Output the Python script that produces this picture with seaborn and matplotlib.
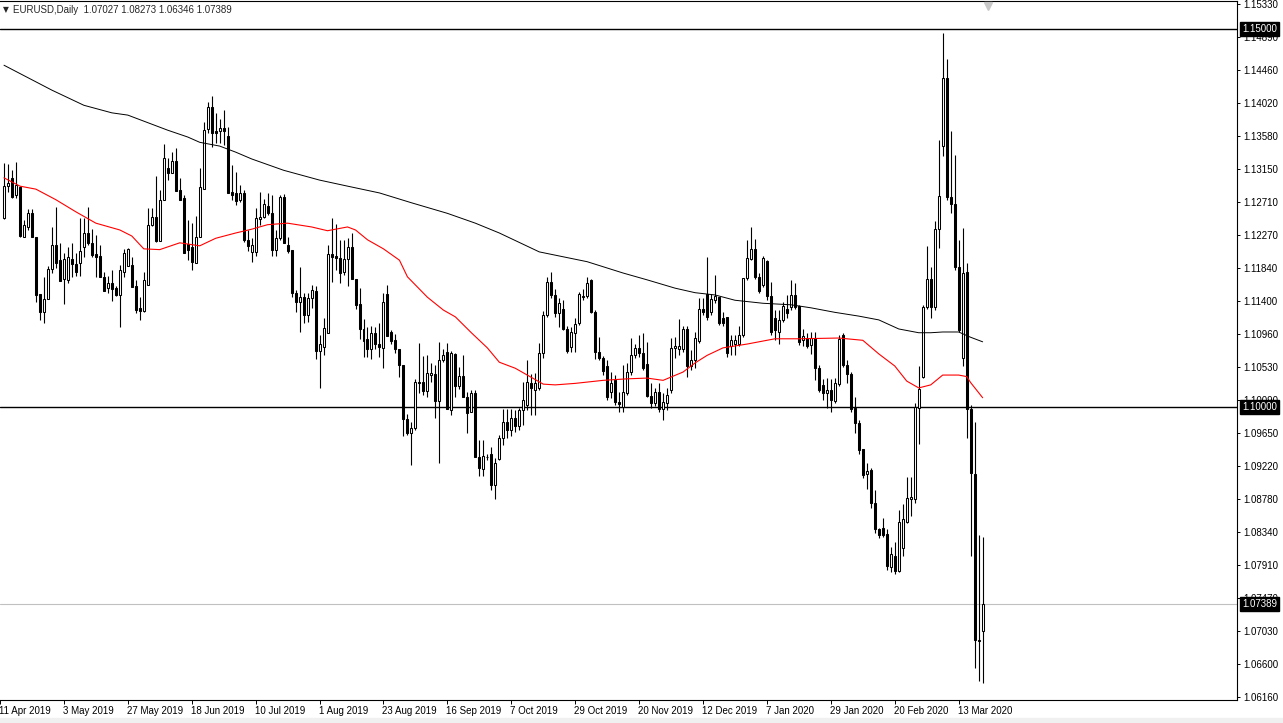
import matplotlib
matplotlib.use("Agg")
import matplotlib.pyplot as plt
import matplotlib.transforms as mtransforms
from matplotlib.patches import Rectangle
import numpy as np
import pandas as pd
import seaborn as sns

# EURUSD daily candles, 11 Apr 2019 .. 20 Mar 2020
open_ = [
    1.1250, 1.1292, 1.1303, 1.1280, 1.1291, 1.1225, 1.1238, 1.1256, 1.1225, 1.1149,
    1.1125, 1.1143, 1.1182, 1.1214, 1.1194, 1.1169, 1.1168, 1.1195, 1.1189, 1.1190,
    1.1211, 1.1230, 1.1217, 1.1202, 1.1200, 1.1172, 1.1157, 1.1164, 1.1157, 1.1148,
    1.1178, 1.1186, 1.1188, 1.1160, 1.1131, 1.1127, 1.1161, 1.1241, 1.1251, 1.1219,
    1.1274, 1.1316, 1.1309, 1.1325, 1.1287, 1.1276, 1.1215, 1.1211, 1.1190, 1.1225,
    1.1288, 1.1368, 1.1397, 1.1365, 1.1365, 1.1369, 1.1358, 1.1284, 1.1283, 1.1274,
    1.1283, 1.1221, 1.1205, 1.1205, 1.1249, 1.1251, 1.1266, 1.1256, 1.1208, 1.1223,
    1.1277, 1.1214, 1.1208, 1.1151, 1.1139, 1.1145, 1.1122, 1.1144, 1.1153, 1.1074,
    1.1079, 1.1097, 1.1202, 1.1200, 1.1197, 1.1178, 1.1195, 1.1211, 1.1169, 1.1136,
    1.1103, 1.1090, 1.1076, 1.1097, 1.1083, 1.1078, 1.1149, 1.1099, 1.1088, 1.1076,
    1.1055, 1.0984, 1.0965, 1.0972, 1.1033, 1.1033, 1.1021, 1.1042, 1.1043, 1.1008,
    1.1062, 1.1072, 1.0996, 1.1070, 1.1028, 1.1041, 1.1013, 1.0993, 1.1018, 1.0933,
    1.0918, 1.0933, 1.0937, 1.0897, 1.0931, 1.0959, 1.0980, 1.0969, 1.0985, 1.0975,
    1.0996, 1.1002, 1.1031, 1.1022, 1.1025, 1.1071, 1.1122, 1.1165, 1.1148, 1.1124,
    1.1129, 1.1103, 1.1079, 1.1097, 1.1111, 1.1145, 1.1147, 1.1168, 1.1125, 1.1072,
    1.1065, 1.1054, 1.1020, 1.1036, 1.1006, 1.1000, 1.1018, 1.1046, 1.1069, 1.1078,
    1.1071, 1.1057, 1.1014, 1.1005, 1.1020, 1.0997, 1.1005, 1.1022, 1.1078, 1.1076,
    1.1076, 1.1103, 1.1054, 1.1062, 1.1087, 1.1129, 1.1149, 1.1125, 1.1141, 1.1145,
    1.1117, 1.1119, 1.1080, 1.1083, 1.1083, 1.1095, 1.1170, 1.1195, 1.1209, 1.1172,
    1.1161, 1.1193, 1.1147, 1.1117, 1.1099, 1.1115, 1.1129, 1.1132, 1.1148, 1.1133,
    1.1088, 1.1091, 1.1082, 1.1091, 1.1051, 1.1029, 1.1018, 1.1022, 1.1008, 1.1030,
    1.1095, 1.1055, 1.1043, 1.0998, 1.0978, 1.0944, 1.0911, 1.0916, 1.0873, 1.0838,
    1.0840, 1.0832, 1.0788, 1.0803, 1.0783, 1.0813, 1.0848, 1.0878, 1.0878, 1.0998,
    1.1040, 1.1132, 1.1169, 1.1132, 1.1235, 1.1345, 1.1435, 1.1277, 1.1268, 1.1185,
    1.1065, 1.1178, 1.0997, 1.0911, 1.0690, 1.07027,
]
high = [
    1.1323, 1.1321, 1.1313, 1.1324, 1.1292, 1.1247, 1.1262, 1.1262, 1.1225, 1.1149,
    1.1172, 1.1186, 1.1238, 1.1264, 1.1217, 1.1203, 1.1211, 1.1217, 1.1203, 1.1250,
    1.1250, 1.1264, 1.1235, 1.1227, 1.1214, 1.1178, 1.1173, 1.1181, 1.1160, 1.1188,
    1.1209, 1.1210, 1.1198, 1.1168, 1.1145, 1.1178, 1.1263, 1.1263, 1.1305, 1.1287,
    1.1348, 1.1329, 1.1337, 1.1342, 1.1303, 1.1280, 1.1247, 1.1243, 1.1252, 1.1316,
    1.1377, 1.1403, 1.1411, 1.1389, 1.1381, 1.1393, 1.1370, 1.1320, 1.1311, 1.1294,
    1.1287, 1.1234, 1.1223, 1.1263, 1.1284, 1.1275, 1.1283, 1.1280, 1.1234, 1.1280,
    1.1282, 1.1225, 1.1208, 1.1155, 1.1185, 1.1151, 1.1151, 1.1161, 1.1160, 1.1095,
    1.1118, 1.1214, 1.1250, 1.1242, 1.1221, 1.1221, 1.1223, 1.1230, 1.1169, 1.1157,
    1.1116, 1.1106, 1.1107, 1.1106, 1.1111, 1.1151, 1.1161, 1.1101, 1.1096, 1.1076,
    1.1055, 1.0990, 1.0980, 1.1037, 1.1084, 1.1067, 1.1069, 1.1058, 1.1055, 1.1086,
    1.1076, 1.1084, 1.1074, 1.1071, 1.1053, 1.1069, 1.1020, 1.1022, 1.1022, 1.0956,
    1.0956, 1.0937, 1.0947, 1.0932, 1.0963, 1.0997, 1.0997, 1.0997, 1.0996, 1.0998,
    1.1033, 1.1062, 1.1043, 1.1045, 1.1084, 1.1127, 1.1172, 1.1178, 1.1156, 1.1144,
    1.1141, 1.1107, 1.1106, 1.1118, 1.1152, 1.1156, 1.1172, 1.1169, 1.1128, 1.1092,
    1.1067, 1.1062, 1.1046, 1.1042, 1.1020, 1.1055, 1.1058, 1.1091, 1.1083, 1.1095,
    1.1098, 1.1086, 1.1031, 1.1025, 1.1031, 1.1018, 1.1025, 1.1091, 1.1092, 1.1116,
    1.1107, 1.1107, 1.1075, 1.1099, 1.1144, 1.1144, 1.1198, 1.1149, 1.1175, 1.1145,
    1.1125, 1.1119, 1.1095, 1.1095, 1.1107, 1.1170, 1.1221, 1.1238, 1.1222, 1.1177,
    1.1199, 1.1194, 1.1165, 1.1128, 1.1128, 1.1139, 1.1148, 1.1168, 1.1164, 1.1135,
    1.1103, 1.1098, 1.1099, 1.1099, 1.1055, 1.1037, 1.1038, 1.1037, 1.1038, 1.1095,
    1.1098, 1.1062, 1.1046, 1.1013, 1.0982, 1.0944, 1.0926, 1.0919, 1.0890, 1.0840,
    1.0853, 1.0838, 1.0814, 1.0821, 1.0863, 1.0871, 1.0907, 1.0907, 1.1005, 1.1054,
    1.1135, 1.1213, 1.1185, 1.1246, 1.1353, 1.1495, 1.1460, 1.1365, 1.1333, 1.1221,
    1.1237, 1.1190, 1.1002, 1.0980, 1.0830, 1.08273,
]
low = [
    1.1248, 1.1284, 1.1276, 1.1276, 1.1225, 1.1225, 1.1234, 1.1225, 1.1139, 1.1115,
    1.1111, 1.1143, 1.1177, 1.1184, 1.1166, 1.1136, 1.1164, 1.1172, 1.1173, 1.1173,
    1.1198, 1.1214, 1.1198, 1.1172, 1.1172, 1.1153, 1.1151, 1.1140, 1.1147, 1.1106,
    1.1172, 1.1186, 1.1158, 1.1124, 1.1115, 1.1125, 1.1161, 1.1239, 1.1218, 1.1219,
    1.1274, 1.1300, 1.1309, 1.1286, 1.1274, 1.1203, 1.1194, 1.1181, 1.1190, 1.1225,
    1.1288, 1.1362, 1.1344, 1.1349, 1.1349, 1.1346, 1.1283, 1.1274, 1.1267, 1.1271,
    1.1218, 1.1206, 1.1192, 1.1199, 1.1241, 1.1250, 1.1254, 1.1199, 1.1199, 1.1221,
    1.1217, 1.1203, 1.1145, 1.1125, 1.1099, 1.1111, 1.1112, 1.1131, 1.1063, 1.1025,
    1.1069, 1.1097, 1.1165, 1.1181, 1.1164, 1.1174, 1.1160, 1.1169, 1.1129, 1.1090,
    1.1066, 1.1066, 1.1063, 1.1076, 1.1066, 1.1052, 1.1094, 1.1083, 1.1071, 1.1039,
    1.0961, 1.0963, 1.0923, 1.0969, 1.1018, 1.1016, 1.1013, 1.1033, 1.0985, 1.0926,
    1.1059, 1.0997, 1.0989, 1.1013, 1.1024, 1.1013, 1.0965, 1.0993, 1.0933, 1.0908,
    1.0908, 1.0929, 1.0890, 1.0878, 1.0930, 1.0949, 1.0959, 1.0961, 1.0967, 1.0969,
    1.0976, 1.0996, 1.0989, 1.0989, 1.1022, 1.1065, 1.1119, 1.1144, 1.1119, 1.1106,
    1.1102, 1.1071, 1.1072, 1.1072, 1.1108, 1.1141, 1.1144, 1.1124, 1.1063, 1.1062,
    1.1042, 1.1009, 1.1012, 1.1002, 1.0993, 1.0993, 1.1016, 1.1042, 1.1065, 1.1066,
    1.1049, 1.1013, 1.0998, 1.1001, 1.0993, 1.0983, 1.0996, 1.1018, 1.1065, 1.1069,
    1.1072, 1.1039, 1.1049, 1.1051, 1.1084, 1.1121, 1.1115, 1.1121, 1.1137, 1.1108,
    1.1107, 1.1066, 1.1069, 1.1069, 1.1080, 1.1092, 1.1168, 1.1194, 1.1169, 1.1151,
    1.1158, 1.1141, 1.1095, 1.1088, 1.1083, 1.1112, 1.1117, 1.1128, 1.1129, 1.1082,
    1.1080, 1.1078, 1.1070, 1.1035, 1.1020, 1.1009, 1.0998, 1.0993, 1.1005, 1.1028,
    1.1053, 1.1032, 1.0993, 1.0965, 1.0937, 1.0906, 1.0891, 1.0866, 1.0833, 1.0826,
    1.0828, 1.0784, 1.0781, 1.0779, 1.0781, 1.0803, 1.0846, 1.0855, 1.0873, 1.0951,
    1.1038, 1.1129, 1.1117, 1.1128, 1.1210, 1.1332, 1.1274, 1.1256, 1.1181, 1.1099,
    1.1054, 1.0959, 1.0802, 1.0654, 1.0637, 1.06346,
]
close = [
    1.1292, 1.1296, 1.1278, 1.1294, 1.1226, 1.1241, 1.1256, 1.1225, 1.1148, 1.1125,
    1.1143, 1.1182, 1.1214, 1.1190, 1.1166, 1.1195, 1.1198, 1.1189, 1.1178, 1.1206,
    1.1230, 1.1217, 1.1201, 1.1198, 1.1172, 1.1153, 1.1164, 1.1156, 1.1148, 1.1181,
    1.1203, 1.1209, 1.1158, 1.1128, 1.1127, 1.1168, 1.1241, 1.1251, 1.1219, 1.1274,
    1.1329, 1.1309, 1.1325, 1.1286, 1.1274, 1.1203, 1.1208, 1.1192, 1.1225, 1.1291,
    1.1366, 1.1397, 1.1362, 1.1362, 1.1369, 1.1365, 1.1283, 1.1280, 1.1272, 1.1283,
    1.1221, 1.1213, 1.1214, 1.1250, 1.1251, 1.1268, 1.1256, 1.1208, 1.1223, 1.1277,
    1.1217, 1.1206, 1.1151, 1.1139, 1.1145, 1.1122, 1.1144, 1.1155, 1.1074, 1.1083,
    1.1104, 1.1202, 1.1198, 1.1197, 1.1177, 1.1195, 1.1211, 1.1169, 1.1135, 1.1103,
    1.1087, 1.1076, 1.1097, 1.1083, 1.1079, 1.1139, 1.1094, 1.1087, 1.1076, 1.1055,
    1.0984, 1.0965, 1.0972, 1.1033, 1.1031, 1.1021, 1.1045, 1.1045, 1.1008, 1.1062,
    1.1069, 1.0997, 1.1071, 1.1028, 1.1041, 1.1013, 1.0992, 1.1018, 1.0933, 1.0919,
    1.0935, 1.0933, 1.0897, 1.0926, 1.0959, 1.0980, 1.0969, 1.0985, 1.0975, 1.0996,
    1.1009, 1.1033, 1.1025, 1.1031, 1.1071, 1.1122, 1.1165, 1.1148, 1.1124, 1.1137,
    1.1103, 1.1074, 1.1099, 1.1110, 1.1149, 1.1147, 1.1164, 1.1125, 1.1072, 1.1065,
    1.1047, 1.1013, 1.1031, 1.1006, 1.1004, 1.1020, 1.1046, 1.1069, 1.1078, 1.1071,
    1.1051, 1.1014, 1.1005, 1.1020, 1.0997, 1.1006, 1.1016, 1.1078, 1.1080, 1.1080,
    1.1103, 1.1054, 1.1062, 1.1091, 1.1129, 1.1125, 1.1119, 1.1143, 1.1147, 1.1111,
    1.1111, 1.1071, 1.1088, 1.1088, 1.1095, 1.1170, 1.1197, 1.1209, 1.1172, 1.1153,
    1.1197, 1.1147, 1.1099, 1.1102, 1.1115, 1.1133, 1.1124, 1.1148, 1.1132, 1.1086,
    1.1094, 1.1080, 1.1091, 1.1051, 1.1022, 1.1018, 1.1022, 1.1009, 1.1031, 1.1090,
    1.1055, 1.1043, 1.0997, 1.0978, 1.0943, 1.0910, 1.0915, 1.0873, 1.0838, 1.0830,
    1.0830, 1.0789, 1.0805, 1.0783, 1.0847, 1.0851, 1.0879, 1.0881, 1.1000, 1.1024,
    1.1132, 1.1169, 1.1132, 1.1235, 1.1279, 1.1435, 1.1277, 1.1268, 1.1185, 1.1102,
    1.1177, 1.0997, 1.0912, 1.0691, 1.0692, 1.07389,
]

# moving averages (values read at some bars)
ma_slow_bar = [0, 12, 20, 27, 31, 36, 41, 46, 49, 54, 58, 62, 70, 79, 86, 94, 102, 111,
               118, 124, 134, 146, 155, 161, 168, 173, 178, 183, 190, 197, 202, 208,
               214, 219, 224, 229, 232, 235, 239, 242, 245]
ma_slow = [1.1452, 1.1419, 1.1399, 1.1389, 1.1386, 1.1376, 1.1366, 1.1357, 1.1350,
           1.1345, 1.1337, 1.1328, 1.1313, 1.1300, 1.1292, 1.1283, 1.1270, 1.1256,
           1.1243, 1.1230, 1.1205, 1.1192, 1.1177, 1.1168, 1.1157, 1.1151, 1.1148,
           1.1141, 1.1137, 1.1135, 1.1131, 1.1125, 1.1120, 1.1115, 1.1103, 1.1098,
           1.1098, 1.1099, 1.1099, 1.1092, 1.1086]
ma_fast_bar = [0, 4, 8, 13, 18, 23, 29, 32, 35, 39, 44, 49, 53, 58, 62, 66, 71, 77, 81,
               86, 88, 91, 95, 99, 101, 106, 110, 113, 117, 121, 124, 128, 132, 135,
               138, 143, 150, 156, 161, 165, 170, 173, 176, 180, 186, 193, 199, 209,
               215, 219, 223, 226, 229, 232, 235, 239, 241, 242, 245]
ma_fast = [1.1303, 1.1292, 1.1288, 1.1274, 1.1258, 1.1243, 1.1234, 1.1226, 1.1209,
           1.1208, 1.1217, 1.1213, 1.1223, 1.1230, 1.1235, 1.1241, 1.1243, 1.1238,
           1.1233, 1.1238, 1.1234, 1.1221, 1.1209, 1.1194, 1.1172, 1.1145, 1.1128,
           1.1119, 1.1098, 1.1078, 1.1059, 1.1051, 1.1039, 1.1030, 1.1029, 1.1031,
           1.1035, 1.1037, 1.1038, 1.1035, 1.1046, 1.1058, 1.1068, 1.1078, 1.1083,
           1.1090, 1.1090, 1.1091, 1.1088, 1.1070, 1.1054, 1.1034, 1.1025, 1.1029,
           1.1042, 1.1042, 1.1040, 1.1032, 1.1012]

date_labels = ["11 Apr 2019", "3 May 2019", "27 May 2019", "18 Jun 2019", "10 Jul 2019",
               "1 Aug 2019", "23 Aug 2019", "16 Sep 2019", "7 Oct 2019", "29 Oct 2019",
               "20 Nov 2019", "12 Dec 2019", "7 Jan 2020", "29 Jan 2020", "20 Feb 2020",
               "13 Mar 2020"]
date_label_bars = [-1, 15, 31, 47, 63, 79, 95, 111, 127, 143, 159, 175, 191, 207, 223, 239]

price_ticks = [1.15330, 1.14890, 1.14460, 1.14020, 1.13580, 1.13150, 1.12710, 1.12270,
               1.11840, 1.11400, 1.10960, 1.10530, 1.10090, 1.09650, 1.09220, 1.08780,
               1.08340, 1.07910, 1.07470, 1.07030, 1.06600, 1.06160]
levels = [1.15000, 1.10000]
last_price = 1.07389
header = "EURUSD,Daily  1.07027 1.08273 1.06346 1.07389"

df = pd.DataFrame({"open": open_, "high": high, "low": low, "close": close})
df["bar"] = np.arange(len(df))
df["bull"] = df["close"] >= df["open"]

sns.set_style("white")
plt.rcParams["font.family"] = ["Liberation Sans", "DejaVu Sans"]

W, H = 1283, 723
fig = plt.figure(figsize=(W / 100, H / 100), dpi=100)
fig.patches.append(Rectangle((0, 0), 1, 5 / H, transform=fig.transFigure,
                             color="#f0f0f0", zorder=0))
ax = fig.add_axes([0, 23 / H, 1237 / W, 699 / H])

# candles
ax.vlines(df["bar"], df["low"], df["high"], color="black", lw=0.8, zorder=2)
body_low = df[["open", "close"]].min(axis=1)
body_h = (df["close"] - df["open"]).abs()
ax.bar(df["bar"], body_h, bottom=body_low, width=0.5,
       color=np.where(df["bull"], "white", "black"), edgecolor="black",
       linewidth=0.75, zorder=3)

# moving averages
sns.lineplot(x=ma_slow_bar, y=ma_slow, ax=ax, color="black", lw=0.7, zorder=4)
sns.lineplot(x=ma_fast_bar, y=ma_fast, ax=ax, color="#ff0000", lw=0.8, zorder=4)

for lv in levels:
    ax.axhline(lv, color="black", lw=1.0, zorder=1)
ax.axhline(last_price, color="#c0c0c0", lw=0.8, zorder=1)

ax.set_xlim(-0.575, 308.675)
ax.set_ylim(1.06120, 1.15370)

for s in ["top", "right", "bottom"]:
    ax.spines[s].set_color("black")
    ax.spines[s].set_linewidth(0.8)
ax.spines["left"].set_visible(False)

ax.yaxis.tick_right()
ax.set_yticks(price_ticks)
ax.set_yticklabels([f"{p:.5f}" for p in price_ticks])
ax.tick_params(axis="y", direction="out", length=2.5, width=0.7, labelsize=7,
               pad=2, colors="black", right=True, left=False)

ax.set_xticks(date_label_bars)
ax.set_xticklabels(date_labels, ha="left")
ax.tick_params(axis="x", direction="out", length=3, width=0.7, labelsize=7,
               pad=1.5, colors="black", bottom=True)
shift = mtransforms.ScaledTranslation(-1 / 100, 0, fig.dpi_scale_trans)
for lab in ax.get_xticklabels():
    lab.set_transform(lab.get_transform() + shift)

ax.set_xlabel("")
ax.set_ylabel("")

# price boxes on the scale
box_tr = mtransforms.blended_transform_factory(ax.transAxes, ax.transData) + \
    mtransforms.ScaledTranslation(5 / 100, 0, fig.dpi_scale_trans)
for p in levels + [last_price]:
    ax.text(1.0, p, f"{p:.5f}", transform=box_tr, ha="left", va="center",
            color="white", fontsize=7, clip_on=False, zorder=10,
            bbox=dict(boxstyle="square,pad=0.18", fc="black", ec="black"))

# header
fig.text(3 / W, 1 - 10 / H, "\u25bc", fontsize=5.5, va="center", ha="left",
         family=["DejaVu Sans"])
fig.text(13 / W, 1 - 10 / H, header, fontsize=7, va="center", ha="left")

# chart shift marker
mark_tr = mtransforms.blended_transform_factory(ax.transData, ax.transAxes)
ax.plot([246.4], [0.993], marker="v", color="#c8c8c8", ms=6, transform=mark_tr,
        clip_on=False, zorder=5)

fig.savefig("out.png", dpi=100)
